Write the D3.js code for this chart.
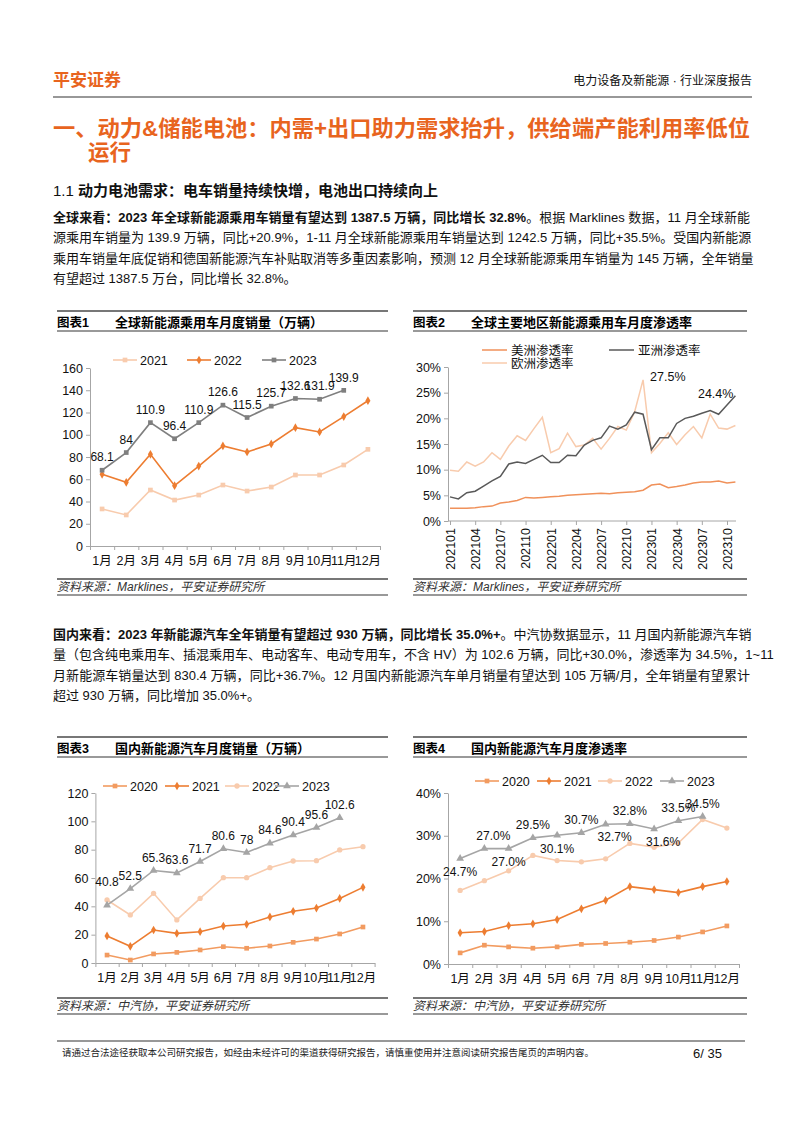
<!DOCTYPE html>
<html>
<head>
<meta charset="utf-8">
<script src="https://cdn.jsdelivr.net/npm/d3@7"></script>
<style>
body{margin:0;background:#fff;}
#page{position:relative;width:802px;height:1133px;overflow:hidden;background:#fff;
  font-family:"Liberation Sans","Noto Sans CJK SC",sans-serif;color:#111;}
#page svg{position:absolute;left:0;top:0;}
.ln{position:absolute;left:53px;width:697px;font-size:13px;line-height:20px;white-space:nowrap;
  text-align:justify;text-align-last:justify;}
.ln.last{text-align-last:left;}
.ln b{font-weight:bold;}
</style>
</head>
<body>
<div id="page"></div>
<script>
// ---- data ----
var months = ["1月","2月","3月","4月","5月","6月","7月","8月","9月","10月","11月","12月"];

// 图表1 全球新能源乘用车月度销量（万辆）
var global2021 = [33.3,27.9,50.3,41.3,45.8,54.8,49.4,53.0,63.8,63.8,72.8,86.9];
var global2022 = [64.4,57.2,82.4,54.2,71.9,89.9,84.5,91.7,106.4,102.5,116.3,130.6];
var global2023 = [68.1,84,110.9,96.4,110.9,126.6,115.5,125.7,132.6,131.9,139.9];

// 图表2 全球主要地区新能源乘用车月度渗透率 (%)
var regionMonths = ["202101","202102","202103","202104","202105","202106","202107","202108","202109",
  "202110","202111","202112","202201","202202","202203","202204","202205","202206","202207","202208",
  "202209","202210","202211","202212","202301","202302","202303","202304","202305","202306","202307",
  "202308","202309","202310","202311"];
var regionTicks = ["202101","202104","202107","202110","202201","202204","202207","202210",
  "202301","202304","202307","202310"];
var americaRate = [2.5,2.5,2.5,2.6,2.8,2.9,3.5,3.7,4.0,4.6,4.5,4.6,4.7,4.8,5.0,5.1,5.2,5.3,5.4,5.3,
  5.5,5.6,5.7,6.0,7.0,7.2,6.5,6.7,7.0,7.4,7.6,7.6,7.8,7.4,7.6];
var asiaRate = [4.7,4.3,5.5,5.8,6.8,7.8,8.7,11.1,11.5,11.2,12.0,12.8,11.4,11.4,12.8,12.7,14.8,15.7,
  16.2,18.5,17.9,18.7,21.2,20.8,13.9,16.2,16.2,19.0,20.0,20.4,21.0,21.5,20.8,22.6,24.4];
var europeRate = [9.9,9.7,11.5,10.7,11.5,13.3,12.0,14.6,16.6,15.7,18.0,20.2,13.3,14.1,17.1,14.5,
  14.8,16.1,14.0,16.1,18.4,17.7,21.3,27.5,13.3,15.1,17.2,14.9,16.8,18.4,16.2,20.8,18.1,17.9,18.6];

// 图表3 国内新能源汽车月度销量（万辆）
var cn2020 = [5.6,2.1,6.4,7.5,9.2,11.5,10.4,12.0,14.6,16.9,20.5,25.4];
var cn2021 = [19.1,11.8,23.3,20.9,22.1,26.1,27.3,32.5,36.5,38.8,45.6,53.4];
var cn2022 = [44.5,33.9,49.2,30.4,45.6,60.2,60.2,67.3,72.0,72.2,79.8,82.1];
var cn2023 = [40.8,52.5,65.3,63.6,71.7,80.6,78,84.6,90.4,95.6,102.6];

// 图表4 国内新能源汽车月度渗透率 (%)
var pen2020 = [2.6,4.4,4.0,3.7,4.0,4.6,4.8,5.1,5.5,6.3,7.5,8.9];
var pen2021 = [7.3,7.6,9.0,9.4,10.4,12.9,14.9,18.1,17.4,16.7,18.1,19.3];
var pen2022 = [17.2,19.5,21.8,25.4,24.2,23.9,24.6,28.2,27.3,28.3,33.8,31.8];
var pen2023 = [24.7,27.0,27.0,29.5,30.1,30.7,32.7,32.8,31.6,33.5,34.5];

// ---- page ----
var FONT = '"Liberation Sans","Noto Sans CJK SC",sans-serif';
var ORANGE = "#e8641e";
var page = d3.select("#page");
var svg = page.append("svg").attr("width", 802).attr("height", 1133)
    .style("font-family", FONT);

// header
svg.append("text").attr("x", 53).attr("y", 86).text("平安证券")
    .attr("fill", ORANGE).style("font-size", "17px").style("font-weight", "bold");
svg.append("text").attr("x", 752).attr("y", 85).attr("text-anchor", "end")
    .text("电力设备及新能源 · 行业深度报告").style("font-size", "12px").attr("fill", "#111");
svg.append("line").attr("x1", 53).attr("x2", 752).attr("y1", 97).attr("y2", 97)
    .attr("stroke", "#333").attr("stroke-width", 1.2);

// section title
svg.append("text").attr("x", 53).attr("y", 136)
    .text("一、动力&储能电池：内需+出口助力需求抬升，供给端产能利用率低位")
    .attr("fill", ORANGE).style("font-size", "21.5px").style("font-weight", "bold")
    .attr("textLength", 697).attr("lengthAdjust", "spacingAndGlyphs");
svg.append("text").attr("x", 88).attr("y", 160).text("运行")
    .attr("fill", ORANGE).style("font-size", "21.5px").style("font-weight", "bold");

var h2 = svg.append("text").attr("x", 53).attr("y", 196).style("font-size", "15px").attr("fill", "#111");
h2.append("tspan").text("1.1  ");
h2.append("tspan").text("动力电池需求：电车销量持续快增，电池出口持续向上").style("font-weight", "bold");

function para(top, lines){
  lines.forEach(function(l, i){
    page.append("div").attr("class", "ln" + (i == lines.length - 1 ? " last" : ""))
      .style("top", (top + i * 20.3) + "px").html(l);
  });
}
para(208, [
  "<b>全球来看：2023 年全球新能源乘用车销量有望达到 1387.5 万辆，同比增长 32.8%</b>。根据 Marklines 数据，11 月全球新能",
  "源乘用车销量为 139.9 万辆，同比+20.9%，1-11 月全球新能源乘用车销量达到 1242.5 万辆，同比+35.5%。受国内新能源",
  "乘用车销量年底促销和德国新能源汽车补贴取消等多重因素影响，预测 12 月全球新能源乘用车销量为 145 万辆，全年销量",
  "有望超过 1387.5 万台，同比增长 32.8%。"
]);
para(625, [
  "<b>国内来看：2023 年新能源汽车全年销量有望超过 930 万辆，同比增长 35.0%+</b>。中汽协数据显示，11 月国内新能源汽车销",
  "量（包含纯电乘用车、插混乘用车、电动客车、电动专用车，不含 HV）为 102.6 万辆，同比+30.0%，渗透率为 34.5%，1~11",
  "月新能源车销量达到 830.4 万辆，同比+36.7%。12 月国内新能源汽车单月销量有望达到 105 万辆/月，全年销量有望累计",
  "超过 930 万辆，同比增加 35.0%+。"
]);

// footer
svg.append("line").attr("x1", 57).attr("x2", 745).attr("y1", 1041).attr("y2", 1041)
    .attr("stroke", "#333").attr("stroke-width", 1.2);
svg.append("text").attr("x", 62).attr("y", 1056)
    .text("请通过合法途径获取本公司研究报告，如经由未经许可的渠道获得研究报告，请慎重使用并注意阅读研究报告尾页的声明内容。")
    .style("font-size", "9.5px").attr("fill", "#222");
svg.append("text").attr("x", 722).attr("y", 1058).attr("text-anchor", "end").text("6/ 35")
    .style("font-size", "13px").attr("fill", "#111");

// ---- chart frame ----
function frame(x0, x1, top, bottom, no, title, source){
  var g = svg.append("g");
  g.append("line").attr("x1", x0).attr("x2", x1).attr("y1", top).attr("y2", top)
    .attr("stroke", "#777").attr("stroke-width", 2);
  g.append("text").attr("x", x0).attr("y", top + 16).text(no)
    .style("font-size", "12.5px").style("font-weight", "bold");
  g.append("text").attr("x", x0 + 58).attr("y", top + 16).text(title)
    .style("font-size", "13px").style("font-weight", "bold");
  g.append("line").attr("x1", x0).attr("x2", x1).attr("y1", top + 20).attr("y2", top + 20)
    .attr("stroke", "#777").attr("stroke-width", 1.5);
  g.append("line").attr("x1", x0).attr("x2", x1).attr("y1", bottom).attr("y2", bottom)
    .attr("stroke", "#777").attr("stroke-width", 2);
  g.append("text").attr("x", x0).attr("y", bottom + 12).text(source)
    .style("font-size", "12px").style("font-style", "italic").attr("fill", "#333");
  g.append("line").attr("x1", x0).attr("x2", x1).attr("y1", bottom + 16).attr("y2", bottom + 16)
    .attr("stroke", "#777").attr("stroke-width", 1.5);
}

frame(57, 388, 311, 579, "图表1", "全球新能源乘用车月度销量（万辆）", "资料来源：Marklines，平安证券研究所");
frame(413, 747, 311, 579, "图表2", "全球主要地区新能源乘用车月度渗透率", "资料来源：Marklines，平安证券研究所");
frame(57, 388, 737, 998, "图表3", "国内新能源汽车月度销量（万辆）", "资料来源：中汽协，平安证券研究所");
frame(413, 747, 737, 998, "图表4", "国内新能源汽车月度渗透率", "资料来源：中汽协，平安证券研究所");

function styleAxis(sel){
  sel.select(".domain").attr("stroke", "#a6a6a6");
  sel.selectAll(".tick line").attr("stroke", "#a6a6a6");
  sel.selectAll(".tick text").attr("fill", "#111").style("font-size", "12.5px").style("font-family", FONT);
}

// ---- monthly line chart (charts 1, 3, 4) ----
function monthChart(cfg){
  var g = svg.append("g");
  var x = d3.scaleBand().domain(months).range([cfg.x0, cfg.x1]);
  var xb = d3.scaleLinear().domain([0, 12]).range([cfg.x0, cfg.x1]);
  var y = d3.scaleLinear().domain([0, cfg.max]).range([cfg.y0, cfg.yTop]);

  g.append("g").attr("transform", "translate(" + cfg.x0 + ",0)")
    .call(d3.axisLeft(y).tickValues(cfg.ticks).tickSize(4).tickSizeOuter(0).tickFormat(cfg.fmt))
    .call(styleAxis);
  g.append("g").attr("transform", "translate(0," + cfg.y0 + ")")
    .call(d3.axisBottom(xb).ticks(12).tickSize(4).tickSizeOuter(0).tickFormat(""))
    .call(styleAxis);
  var xl = g.append("g").attr("transform", "translate(0," + cfg.y0 + ")")
    .call(d3.axisBottom(x).tickSize(0).tickPadding(10));
  xl.select(".domain").remove();
  xl.call(styleAxis);

  var line = d3.line().x(function(d, i){ return x(months[i]) + x.bandwidth() / 2; })
    .y(function(d){ return y(d); });

  cfg.series.forEach(function(s){
    g.append("path").datum(s.values).attr("d", line).attr("fill", "none")
      .attr("stroke", s.color).attr("stroke-width", 1.6);
    g.selectAll(null).data(s.values).enter().append("path")
      .attr("d", d3.symbol().type(s.sym).size(s.size || 22))
      .attr("transform", function(d, i){
        return "translate(" + (x(months[i]) + x.bandwidth() / 2) + "," + y(d) + ")"; })
      .attr("fill", s.color);
  });

  // data labels for latest year
  var ls = cfg.series[cfg.series.length - 1];
  g.selectAll(null).data(ls.values).enter().append("text")
    .attr("x", function(d, i){
      var p = cfg.place[i] || "a";
      return x(months[i]) + x.bandwidth() / 2 + (p.indexOf("r") >= 0 ? 9 : 0); })
    .attr("y", function(d, i){
      var p = (cfg.place[i] || "a").charAt(0);
      return y(d) + (p == "b" ? 13 : p == "A" ? -23 : -13); })
    .attr("dy", "0.35em").attr("text-anchor", "middle")
    .text(cfg.labelFmt).style("font-size", "12px").attr("fill", "#111");

  // legend
  cfg.series.forEach(function(s, i){
    var lx = cfg.legendX[i];
    g.append("line").attr("x1", lx).attr("x2", lx + 24).attr("y1", cfg.legendY).attr("y2", cfg.legendY)
      .attr("stroke", s.color).attr("stroke-width", 1.6);
    g.append("path").attr("d", d3.symbol().type(s.sym).size(s.size || 22))
      .attr("transform", "translate(" + (lx + 12) + "," + cfg.legendY + ")").attr("fill", s.color);
    g.append("text").attr("x", lx + 27).attr("y", cfg.legendY).attr("dy", "0.36em")
      .text(s.name).style("font-size", "12.5px").attr("fill", "#111");
  });
}

monthChart({
  x0: 90, x1: 380, y0: 546, yTop: 368, max: 160, ticks: d3.range(0, 161, 20),
  fmt: function(d){ return d; }, labelFmt: function(d){ return d; },
  place: [],
  legendX: [113, 187, 262], legendY: 360,
  series: [
    {name: "2021", values: global2021, color: "#f8cbad", sym: d3.symbolSquare},
    {name: "2022", values: global2022, color: "#ed7d31", sym: d3.symbolDiamond},
    {name: "2023", values: global2023, color: "#7f7f7f", sym: d3.symbolSquare}
  ]
});

monthChart({
  x0: 95.4, x1: 374.6, y0: 963, yTop: 793, max: 120, ticks: d3.range(0, 121, 20),
  fmt: function(d){ return d; }, labelFmt: function(d){ return d; },
  place: ["A"],
  legendX: [103, 165, 225, 275], legendY: 786,
  series: [
    {name: "2020", values: cn2020, color: "#f29b60", sym: d3.symbolSquare},
    {name: "2021", values: cn2021, color: "#ed7d31", sym: d3.symbolDiamond},
    {name: "2022", values: cn2022, color: "#f8cbad", sym: d3.symbolCircle},
    {name: "2023", values: cn2023, color: "#a5a5a5", sym: d3.symbolTriangle, size: 26}
  ]
});

monthChart({
  x0: 448, x1: 739, y0: 964, yTop: 793, max: 40, ticks: [0, 10, 20, 30, 40],
  fmt: function(d){ return d + "%"; }, labelFmt: function(d){ return d.toFixed(1) + "%"; },
  place: ["b", "ar", "b", "a", "b", "a", "br", "a", "br", "a", "a"],
  legendX: [475, 537, 598, 660], legendY: 781,
  series: [
    {name: "2020", values: pen2020, color: "#f29b60", sym: d3.symbolSquare},
    {name: "2021", values: pen2021, color: "#ed7d31", sym: d3.symbolDiamond},
    {name: "2022", values: pen2022, color: "#f8cbad", sym: d3.symbolCircle},
    {name: "2023", values: pen2023, color: "#a5a5a5", sym: d3.symbolTriangle, size: 26}
  ]
});

// ---- chart 2: regional penetration ----
(function(){
  var g = svg.append("g");
  var x = d3.scalePoint().domain(regionMonths).range([450, 735.4]);
  var y = d3.scaleLinear().domain([0, 30]).range([521, 367]);

  g.append("g").attr("transform", "translate(448,0)")
    .call(d3.axisLeft(y).tickValues([0, 5, 10, 15, 20, 25, 30]).tickSize(4).tickSizeOuter(0)
      .tickFormat(function(d){ return d + "%"; }))
    .call(styleAxis);
  var xa = g.append("g").attr("transform", "translate(0,521)")
    .call(d3.axisBottom(x).tickValues(regionTicks).tickSize(4).tickSizeOuter(0))
    .call(styleAxis);
  xa.select(".domain").attr("d", "M448,0H736");
  xa.selectAll(".tick text").attr("transform", "rotate(-90)")
    .attr("x", -7).attr("y", 0).attr("dy", "0.35em").style("text-anchor", "end");

  var series = [
    {name: "欧洲渗透率", values: europeRate, color: "#f8cbad"},
    {name: "美洲渗透率", values: americaRate, color: "#f0915a"},
    {name: "亚洲渗透率", values: asiaRate, color: "#595959"}
  ];
  var line = d3.line().x(function(d, i){ return x(regionMonths[i]); }).y(function(d){ return y(d); });
  series.forEach(function(s){
    g.append("path").datum(s.values).attr("d", line).attr("fill", "none")
      .attr("stroke", s.color).attr("stroke-width", 1.5);
  });

  g.append("text").attr("x", x(regionMonths[23]) + 7).attr("y", y(europeRate[23]) - 3)
    .attr("dy", "0.35em").text("27.5%").style("font-size", "12.5px").attr("fill", "#111");
  g.append("text").attr("x", x(regionMonths[34]) - 2).attr("y", y(asiaRate[34]) - 2)
    .attr("dy", "0.35em").attr("text-anchor", "end").text("24.4%")
    .style("font-size", "12.5px").attr("fill", "#111");

  var legend = [
    {s: series[1], x: 482, y: 350},
    {s: series[2], x: 609, y: 350},
    {s: series[0], x: 482, y: 363}
  ];
  legend.forEach(function(l){
    g.append("line").attr("x1", l.x).attr("x2", l.x + 25).attr("y1", l.y).attr("y2", l.y)
      .attr("stroke", l.s.color).attr("stroke-width", 1.5);
    g.append("text").attr("x", l.x + 29).attr("y", l.y).attr("dy", "0.36em").text(l.s.name)
      .style("font-size", "12.5px").attr("fill", "#111");
  });
})();
</script>
</body>
</html>
